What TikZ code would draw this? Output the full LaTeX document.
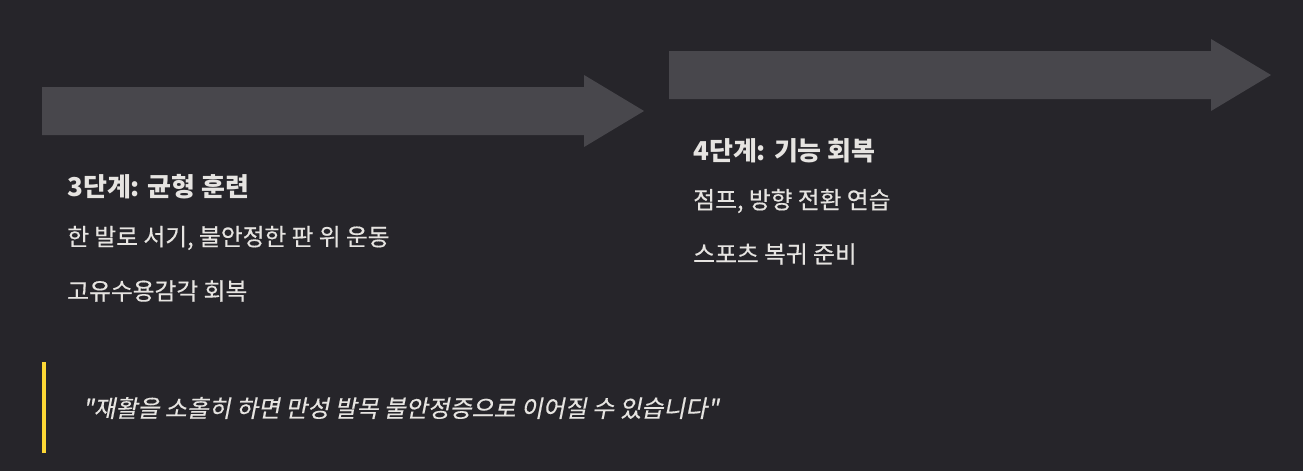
\documentclass[tikz,border=0pt]{standalone}
\usepackage{fontspec}
\setmainfont{Noto Sans CJK KR}
\newfontfamily\krit[FakeSlant=0.2,FakeBold=0.4]{Noto Sans CJK KR}
\newfontfamily\krbody[FakeBold=0.4]{Noto Sans CJK KR}
\definecolor{bgc}{HTML}{26252A}
\definecolor{arrc}{HTML}{48474C}
\definecolor{txtc}{HTML}{E6E4E1}
\definecolor{barc}{HTML}{FDD835}
\tikzset{
  bigarrow/.style={fill=arrc, draw=none},
  titletxt/.style={anchor=west, inner sep=0pt, text=txtc, font=\fontsize{19.5pt}{23pt}\selectfont\bfseries},
  bodytxt/.style={anchor=west, inner sep=0pt, text=txtc, font=\fontsize{17.8pt}{21pt}\selectfont\krbody},
  quotetxt/.style={anchor=west, inner sep=0pt, text=txtc, font=\fontsize{17.9pt}{21pt}\selectfont\krit},
}
\begin{document}
\begin{tikzpicture}[x=0.75pt,y=-0.75pt]
\fill[bgc] (0,0) rectangle (1303,471);
\useasboundingbox (0,0) rectangle (1303,471);
% arrow 1
\fill[bigarrow] (42,87) -- (584,87) -- (584,75) -- (644,111) -- (584,147) -- (584,135) -- (42,135) -- cycle;
% arrow 2
\fill[bigarrow] (669,51) -- (1211,51) -- (1211,39) -- (1271,75) -- (1211,111) -- (1211,99) -- (669,99) -- cycle;
% stage 3
\node[titletxt] (t3) at (67,187) {3단계: 균형 훈련};
\node[bodytxt] (a3) at (67,238) {한 발로 서기, 불안정한 판 위 운동};
\node[bodytxt] (b3) at (67,291) {고유수용감각 회복};
% stage 4
\node[titletxt] (t4) at (693,151) {4단계: 기능 회복};
\node[bodytxt] (a4) at (693,201) {점프, 방향 전환 연습};
\node[bodytxt] (b4) at (693,254) {스포츠 복귀 준비};
% quote
\fill[barc] (42,362) rectangle (46,453);
\node[quotetxt] (q) at (82,408) {"재활을 소홀히 하면 만성 발목 불안정증으로 이어질 수 있습니다"};
\end{tikzpicture}
\end{document}
